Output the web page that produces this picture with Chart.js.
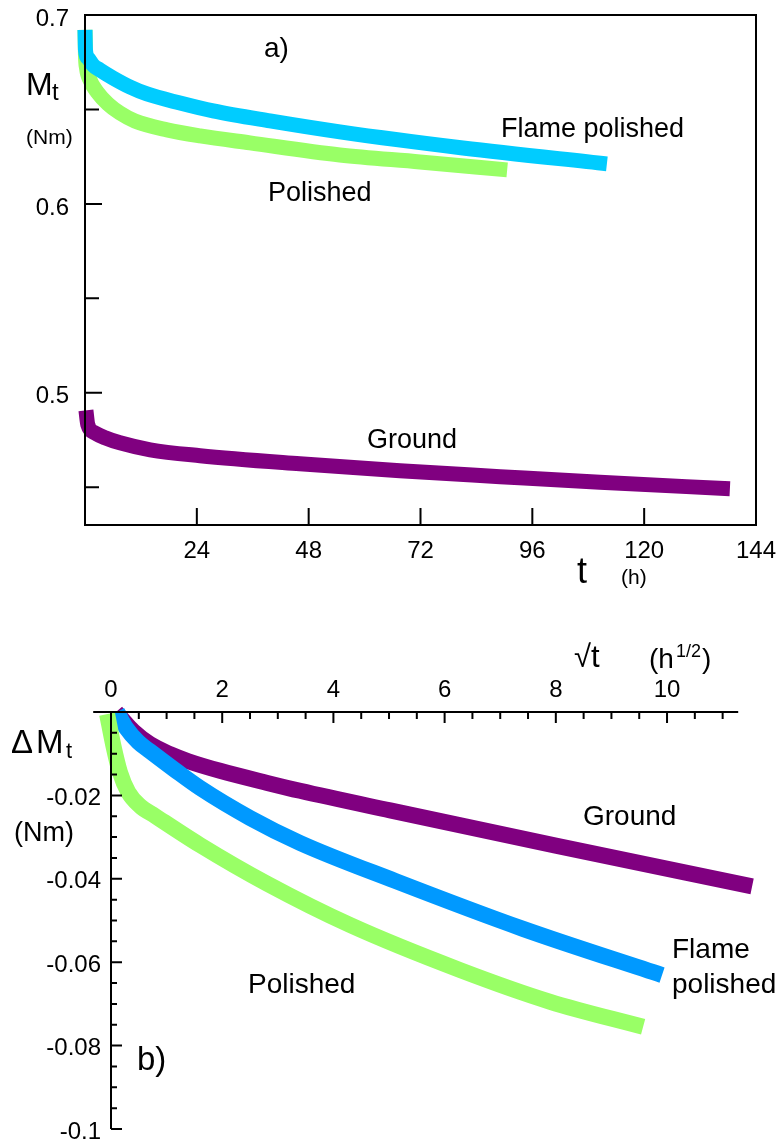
<!DOCTYPE html>
<html>
<head>
<meta charset="utf-8">
<script src="https://cdn.jsdelivr.net/npm/chart.js@4.4.0/dist/chart.umd.min.js"></script>
<style>
  body { margin: 0; background: #fff; }
  canvas { display: block; }
</style>
</head>
<body>
<canvas id="chartA" width="781" height="600"></canvas>
<canvas id="chartB" width="781" height="544"></canvas>
<script>
// a) torque Mt (Nm) against time t (h)
const tFlame = [0, 0.1, 0.64, 1.72, 3.2, 6.0, 9.66, 13.3, 20.4, 27.5, 39.7, 54.7, 81.1, 112];
const mFlame = [0.6921, 0.6815, 0.6772, 0.6735, 0.6709, 0.6667, 0.6619, 0.6582, 0.6534, 0.6492, 0.6439, 0.6381, 0.6296, 0.6212];
const tPolished = [0, 0.1, 0.32, 1.07, 2.58, 4.94, 7.5, 10.7, 17.6, 24.7, 35.4, 54.7, 71.9, 90.6];
const mPolished = [0.6921, 0.6788, 0.6720, 0.6656, 0.6593, 0.6529, 0.6481, 0.6439, 0.6392, 0.6360, 0.6323, 0.6259, 0.6222, 0.6180];
const tGround = [0.2, 0.6, 2.1, 4.3, 7.5, 14, 24.7, 46.1, 67.6, 89.1, 110.5, 138.4];
const mGround = [0.4907, 0.4831, 0.4788, 0.4762, 0.4735, 0.4698, 0.4667, 0.4624, 0.4587, 0.4556, 0.4526, 0.4492];

const xTicksA = [24, 48, 72, 96, 120, 144];
const xLabelsA = ['24', '48', '72', '96', '120', '144'];
const yTicksA = [0.5, 0.6, 0.7];
const yLabelsA = ['0.5', '0.6', '0.7'];
const yMinorA = [0.45, 0.55, 0.65];

// b) torque loss dMt (Nm) against sqrt(t) (h^1/2)
const vGround = [0.09, 0.20, 0.40, 0.70, 1.06, 1.39, 1.96, 2.81, 3.40, 5.02, 8.02, 11.53];
const dGround = [0, -0.0017, -0.0046, -0.0077, -0.0101, -0.0118, -0.0141, -0.0170, -0.0189, -0.0236, -0.0321, -0.0418];
const vFlame = [0.11, 0.27, 0.49, 0.70, 1.15, 1.60, 2.50, 3.40, 5.11, 7.41, 9.91];
const dFlame = [0, -0.0038, -0.0072, -0.0094, -0.0139, -0.0182, -0.0254, -0.0314, -0.0405, -0.0520, -0.0631];
const vPolished = [-0.07, 0.04, 0.16, 0.31, 0.52, 0.79, 1.60, 2.81, 4.30, 6.28, 7.90, 9.57];
const dPolished = [-0.0005, -0.0079, -0.0144, -0.0192, -0.0225, -0.0249, -0.0319, -0.0412, -0.0511, -0.0619, -0.0695, -0.0755];

const xTicksB = [0, 2, 4, 6, 8, 10];
const xLabelsB = ['0', '2', '4', '6', '8', '10'];
const yTicksB = [-0.1, -0.08, -0.06, -0.04, -0.02];
const yLabelsB = ['-0.1', '-0.08', '-0.06', '-0.04', '-0.02'];

const FONT = 'Arial, "Liberation Sans", sans-serif';

function toXY(xs, ys) {
  return xs.map((x, i) => ({ x: x, y: ys[i] }));
}

function lineSet(label, xs, ys, color, width) {
  return {
    label: label,
    data: toXY(xs, ys),
    borderColor: color,
    borderWidth: width,
    pointRadius: 0,
    fill: false,
    cubicInterpolationMode: 'monotone',
    borderJoinStyle: 'round',
    clip: false
  };
}

function text(ctx, str, x, y, size) {
  ctx.font = size + 'px ' + FONT;
  ctx.fillText(str, x, y);
}

function tickFont(size) {
  return { family: FONT, size: size };
}

// fixed box size, no extra room for overhanging tick labels
function fixSize(w, h) {
  return s => {
    if (w) s.width = w;
    if (h) s.height = h;
    s.paddingLeft = 0;
    s.paddingRight = 0;
    s.paddingTop = 0;
    s.paddingBottom = 0;
  };
}

const frameA = {
  id: 'frameA',
  afterDatasetsDraw(chart) {
    const { ctx, chartArea: a, scales: { x, y } } = chart;
    ctx.save();
    ctx.strokeStyle = '#000';
    ctx.lineWidth = 2;
    ctx.strokeRect(a.left, a.top, a.right - a.left, a.bottom - a.top);
    ctx.beginPath();
    xTicksA.forEach(v => {
      const px = x.getPixelForValue(v);
      ctx.moveTo(px, a.bottom);
      ctx.lineTo(px, a.bottom - 17);
    });
    yTicksA.forEach(v => {
      const py = y.getPixelForValue(v);
      ctx.moveTo(a.left, py);
      ctx.lineTo(a.left + 17, py);
    });
    yMinorA.forEach(v => {
      const py = y.getPixelForValue(v);
      ctx.moveTo(a.left, py);
      ctx.lineTo(a.left + 14, py);
    });
    ctx.stroke();
    ctx.restore();
  },
  afterDraw(chart) {
    const ctx = chart.ctx;
    ctx.save();
    ctx.fillStyle = '#000';
    ctx.textAlign = 'left';
    ctx.textBaseline = 'alphabetic';
    text(ctx, 'a)', 264, 57, 28);
    text(ctx, 'Flame polished', 501, 137, 27);
    text(ctx, 'Polished', 268, 201, 27);
    text(ctx, 'Ground', 367, 448, 27);
    text(ctx, 'M', 26, 95, 32);
    text(ctx, 't', 52, 100, 24);
    text(ctx, '(Nm)', 26, 144, 21);
    text(ctx, 't', 577, 583, 36);
    text(ctx, '(h)', 621, 584, 21);
    ctx.restore();
  }
};

const frameB = {
  id: 'frameB',
  afterDatasetsDraw(chart) {
    const { ctx, scales: { x, y } } = chart;
    const x0 = x.getPixelForValue(0);
    const y0 = y.getPixelForValue(0);
    ctx.save();
    ctx.strokeStyle = '#000';
    ctx.lineWidth = 2;
    ctx.beginPath();
    ctx.moveTo(x.getPixelForValue(-0.32), y0);
    ctx.lineTo(x.getPixelForValue(11.28), y0);
    ctx.moveTo(x0, y0);
    ctx.lineTo(x0, y.getPixelForValue(-0.1));
    for (let k = 1; k <= 22; k++) {
      const px = x.getPixelForValue(k * 0.5);
      const len = (k % 4 === 0) ? 11 : 7;
      ctx.moveTo(px, y0);
      ctx.lineTo(px, y0 + len);
    }
    for (let k = 1; k <= 20; k++) {
      const py = y.getPixelForValue(-0.005 * k);
      const len = (k % 4 === 0) ? 11 : 6;
      ctx.moveTo(x0, py);
      ctx.lineTo(x0 + len, py);
    }
    ctx.stroke();
    ctx.restore();
  },
  afterDraw(chart) {
    const ctx = chart.ctx;
    ctx.save();
    ctx.fillStyle = '#000';
    ctx.textAlign = 'left';
    ctx.textBaseline = 'alphabetic';
    // page y minus 600
    text(ctx, '\u221At', 574, 67, 31);
    text(ctx, '(h', 649, 68, 28);
    text(ctx, '1/2', 676, 57, 18);
    text(ctx, ')', 702, 68, 28);
    text(ctx, '\u0394', 11, 153, 33);
    text(ctx, 'M', 36, 153, 33);
    text(ctx, 't', 66, 158, 22);
    text(ctx, '(Nm)', 14, 241, 27);
    text(ctx, 'Ground', 583, 225, 28);
    text(ctx, 'Flame', 672, 358, 28);
    text(ctx, 'polished', 672, 393, 28);
    text(ctx, 'Polished', 248, 393, 28);
    text(ctx, 'b)', 137, 470, 33);
    ctx.restore();
  }
};

new Chart(document.getElementById('chartA'), {
  type: 'line',
  data: {
    datasets: [
      lineSet('Flame polished', tFlame, mFlame, '#00CCFF', 15),
      lineSet('Polished', tPolished, mPolished, '#99FF66', 15),
      lineSet('Ground', tGround, mGround, '#800080', 15)
    ]
  },
  options: {
    responsive: false,
    devicePixelRatio: 1,
    animation: false,
    layout: { padding: { left: 0, top: 15, right: 25, bottom: 0 } },
    plugins: { legend: { display: false }, tooltip: { enabled: false } },
    scales: {
      x: {
        type: 'linear',
        position: 'bottom',
        min: 0,
        max: 144,
        grid: { display: false, drawTicks: false },
        border: { display: false },
        afterBuildTicks: s => { s.ticks = xTicksA.map(v => ({ value: v })); },
        afterFit: fixSize(0, 75),
        ticks: {
          callback: (v, i) => xLabelsA[i],
          font: tickFont(24),
          color: '#000',
          padding: 12,
          maxRotation: 0,
          autoSkip: false
        }
      },
      y: {
        type: 'linear',
        min: 0.43,
        max: 0.7,
        grid: { display: false, drawTicks: false },
        border: { display: false },
        afterBuildTicks: s => { s.ticks = yTicksA.map(v => ({ value: v })); },
        afterFit: fixSize(85, 0),
        ticks: {
          callback: (v, i) => yLabelsA[i],
          font: tickFont(24),
          color: '#000',
          padding: 16,
          labelOffset: 4
        }
      }
    }
  },
  plugins: [frameA]
});

new Chart(document.getElementById('chartB'), {
  type: 'line',
  data: {
    datasets: [
      lineSet('Polished', vPolished, dPolished, '#99FF66', 16),
      lineSet('Flame polished', vFlame, dFlame, '#0099FF', 16),
      lineSet('Ground', vGround, dGround, '#800080', 16)
    ]
  },
  options: {
    responsive: false,
    devicePixelRatio: 1,
    animation: false,
    layout: { padding: { left: 0, top: 52, right: 25, bottom: 15 } },
    plugins: { legend: { display: false }, tooltip: { enabled: false } },
    scales: {
      x: {
        type: 'linear',
        position: 'top',
        min: 0,
        max: 11.6,
        grid: { display: false, drawTicks: false },
        border: { display: false },
        afterBuildTicks: s => { s.ticks = xTicksB.map(v => ({ value: v })); },
        afterFit: fixSize(0, 60),
        ticks: {
          callback: (v, i) => xLabelsB[i],
          font: tickFont(24),
          color: '#000',
          padding: 7,
          maxRotation: 0,
          autoSkip: false
        }
      },
      y: {
        type: 'linear',
        min: -0.1,
        max: 0,
        grid: { display: false, drawTicks: false },
        border: { display: false },
        afterBuildTicks: s => { s.ticks = yTicksB.map(v => ({ value: v })); },
        afterFit: fixSize(111, 0),
        ticks: {
          callback: (v, i) => yLabelsB[i],
          font: tickFont(24),
          color: '#000',
          padding: 10,
          labelOffset: 3
        }
      }
    }
  },
  plugins: [frameB]
});
</script>
</body>
</html>
